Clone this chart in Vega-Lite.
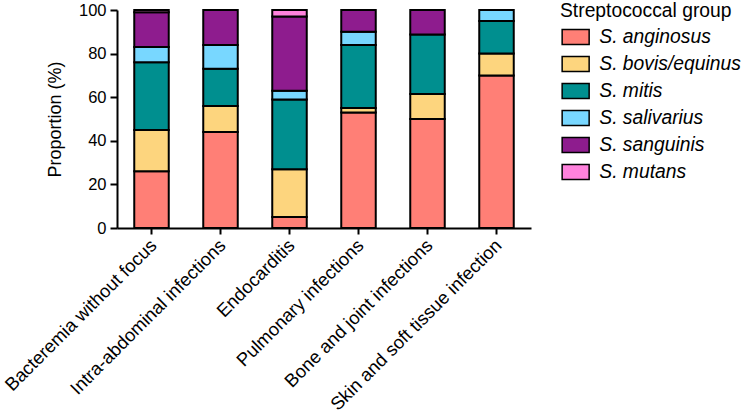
{
  "$schema": "https://vega.github.io/schema/vega-lite/v6.json",
  "autosize": "none",
  "width": 414,
  "height": 218,
  "padding": {"left": 117, "top": 10, "right": 211, "bottom": 185},
  "background": "white",
  "config": {
    "font": "Liberation Sans",
    "view": {"stroke": null}
  },
  "data": {
    "values": [
      {"infection": "Bacteremia without focus", "group": "S. anginosus", "pct": 26},
      {"infection": "Bacteremia without focus", "group": "S. bovis/equinus", "pct": 19},
      {"infection": "Bacteremia without focus", "group": "S. mitis", "pct": 31},
      {"infection": "Bacteremia without focus", "group": "S. salivarius", "pct": 7},
      {"infection": "Bacteremia without focus", "group": "S. sanguinis", "pct": 16},
      {"infection": "Bacteremia without focus", "group": "S. mutans", "pct": 1},
      {"infection": "Intra-abdominal infections", "group": "S. anginosus", "pct": 44},
      {"infection": "Intra-abdominal infections", "group": "S. bovis/equinus", "pct": 12},
      {"infection": "Intra-abdominal infections", "group": "S. mitis", "pct": 17},
      {"infection": "Intra-abdominal infections", "group": "S. salivarius", "pct": 11},
      {"infection": "Intra-abdominal infections", "group": "S. sanguinis", "pct": 16},
      {"infection": "Endocarditis", "group": "S. anginosus", "pct": 5},
      {"infection": "Endocarditis", "group": "S. bovis/equinus", "pct": 22},
      {"infection": "Endocarditis", "group": "S. mitis", "pct": 32},
      {"infection": "Endocarditis", "group": "S. salivarius", "pct": 4},
      {"infection": "Endocarditis", "group": "S. sanguinis", "pct": 34},
      {"infection": "Endocarditis", "group": "S. mutans", "pct": 3},
      {"infection": "Pulmonary infections", "group": "S. anginosus", "pct": 53},
      {"infection": "Pulmonary infections", "group": "S. bovis/equinus", "pct": 2},
      {"infection": "Pulmonary infections", "group": "S. mitis", "pct": 29},
      {"infection": "Pulmonary infections", "group": "S. salivarius", "pct": 6},
      {"infection": "Pulmonary infections", "group": "S. sanguinis", "pct": 10},
      {"infection": "Bone and joint infections", "group": "S. anginosus", "pct": 50},
      {"infection": "Bone and joint infections", "group": "S. bovis/equinus", "pct": 11.5},
      {"infection": "Bone and joint infections", "group": "S. mitis", "pct": 27.3},
      {"infection": "Bone and joint infections", "group": "S. sanguinis", "pct": 11.2},
      {"infection": "Skin and soft tissue infection", "group": "S. anginosus", "pct": 70},
      {"infection": "Skin and soft tissue infection", "group": "S. bovis/equinus", "pct": 10},
      {"infection": "Skin and soft tissue infection", "group": "S. mitis", "pct": 15},
      {"infection": "Skin and soft tissue infection", "group": "S. salivarius", "pct": 5}
    ]
  },
  "transform": [
    {"calculate": "indexof(['S. anginosus', 'S. bovis/equinus', 'S. mitis', 'S. salivarius', 'S. sanguinis', 'S. mutans'], datum.group)", "as": "stackIdx"}
  ],
  "mark": {"type": "bar", "stroke": "black", "strokeWidth": 2},
  "encoding": {
    "x": {
      "field": "infection",
      "type": "nominal",
      "sort": null,
      "scale": {"paddingInner": 0.5, "paddingOuter": 0.25},
      "axis": {
        "title": null,
        "labelAngle": -45,
        "labelAlign": "right",
        "labelBaseline": "middle",
        "labelFontSize": 18.4,
        "labelLimit": 0,
        "labelColor": "black",
        "labelPadding": 8,
        "labelOffset": 2,
        "domainColor": "black",
        "domainWidth": 2,
        "tickColor": "black",
        "tickWidth": 2,
        "tickSize": 6
      }
    },
    "y": {
      "field": "pct",
      "type": "quantitative",
      "stack": "zero",
      "scale": {"domain": [0, 100], "nice": false},
      "axis": {
        "title": "Proportion (%)",
        "titleFontSize": 18,
        "titleFontWeight": "normal",
        "titleColor": "black",
        "titlePadding": 14,
        "values": [0, 20, 40, 60, 80, 100],
        "labelFontSize": 16.5,
        "labelColor": "black",
        "labelPadding": 4,
        "domainColor": "black",
        "domainWidth": 2,
        "tickColor": "black",
        "tickWidth": 2,
        "tickSize": 7,
        "grid": false
      }
    },
    "color": {
      "field": "group",
      "type": "nominal",
      "scale": {
        "domain": ["S. anginosus", "S. bovis/equinus", "S. mitis", "S. salivarius", "S. sanguinis", "S. mutans"],
        "range": ["#FF7F76", "#FDD57E", "#008F8F", "#78D7FF", "#8E1C8E", "#FF82DD"]
      },
      "legend": {
        "title": "Streptococcal group",
        "orient": "none",
        "legendX": 443,
        "legendY": -8,
        "titleFontSize": 19.3,
        "titleFontWeight": "normal",
        "titleColor": "black",
        "titlePadding": 6,
        "labelFontSize": 19.3,
        "labelFontStyle": "italic",
        "labelColor": "black",
        "labelOffset": 14,
        "labelLimit": 0,
        "symbolType": "M-1.8,-1L1.8,-1L1.8,1L-1.8,1Z",
        "symbolSize": 225,
        "symbolStrokeColor": "black",
        "symbolStrokeWidth": 1.5,
        "symbolOpacity": 1,
        "symbolOffset": 6,
        "rowPadding": 5
      }
    },
    "order": {"field": "stackIdx", "type": "quantitative", "sort": "ascending"}
  }
}
